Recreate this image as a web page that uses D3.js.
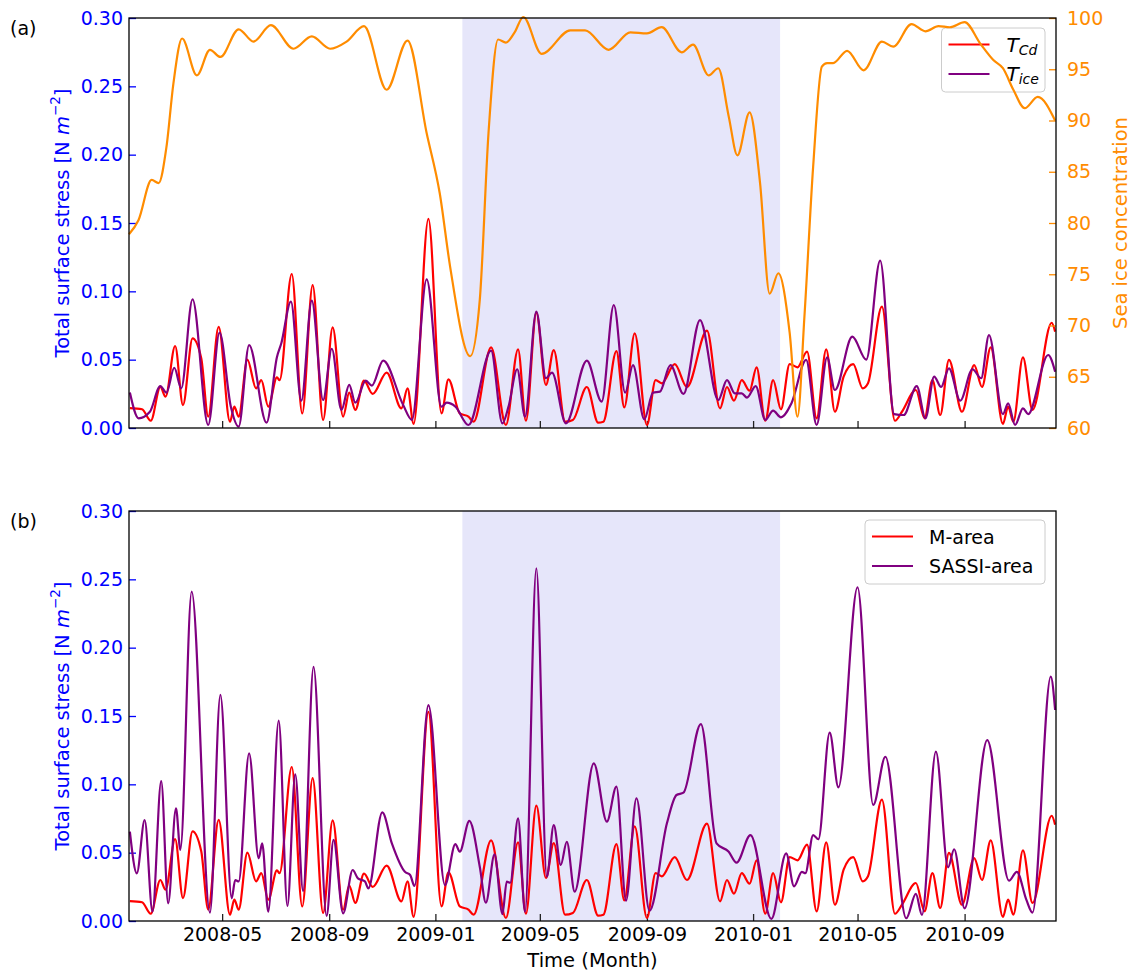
<!DOCTYPE html>
<html>
<head>
<meta charset="utf-8">
<script src="https://cdnjs.cloudflare.com/ajax/libs/d3/7.8.5/d3.min.js"></script>
<style>
  body { margin: 0; background: #fff; }
  svg { display: block; }
  text { font-family: "DejaVu Sans", sans-serif; }
</style>
</head>
<body>
<svg></svg>
<script>
// x values are days since 2008-01-15
const cdDays = [1,15,25,36,42,53,62,73,83,91,103,116,121,126,136,146,152,160,170,173,187,199,211,223,234,246,253,260,270,280,296,313,320,327,344,359,367,380,390,396,416,433,447,456,468,479,488,501,510,526,539,545,560,569,581,595,605,612,627,641,664,679,687,695,704,713,721,731,740,749,759,768,779,790,801,811,821,832,843,849,865,880,888,904,914,923,932,942,957,971,980,990,1004,1010,1016,1027,1038,1060,1064];
const cdVals = [0.0146,0.0137,0.0053,0.030,0.023,0.060,0.0168,0.0656,0.051,0.0083,0.074,0.0046,0.0156,0.0083,0.050,0.029,0.035,0.0156,0.037,0.035,0.1127,0.0107,0.1046,0.0059,0.0737,0.0083,0.0259,0.0132,0.0346,0.0249,0.0405,0.0144,0.029,0.003,0.153,0.0107,0.0356,0.0107,0.0083,0.0046,0.059,0.0022,0.0576,0.0053,0.0844,0.0315,0.057,0.0046,0.0059,0.030,0.0039,0.0046,0.0563,0.0151,0.0693,0.0022,0.035,0.0327,0.0468,0.030,0.0712,0.0144,0.030,0.020,0.035,0.0273,0.0444,0.0053,0.035,0.0137,0.0468,0.0444,0.0559,0.0071,0.0576,0.0119,0.0376,0.0468,0.029,0.0327,0.0888,0.0053,0.0119,0.0278,0.0071,0.035,0.0095,0.0498,0.0119,0.046,0.030,0.059,0.003,0.0156,0.0046,0.0517,0.0132,0.077,0.0705];

const iceDays = [1,11,24,36,43,52,60,73,91,104,117,126,138,158,170,175,186,198,210,223,233,244,253,260,272,279,292,315,325,342,359,365,375,390,416,429,436,446,455,468,479,486,502,526,543,557,570,579,592,602,610,622,637,656,677,687,696,704,710,720,731,740,749,761,778,790,802,811,831,847,863,879,890,905,915,925,933,942,955,969,979,988,1004,1010,1018,1027,1033,1056,1064];
const iceVals = [0.0259,0.0071,0.0119,0.0307,0.0259,0.0441,0.029,0.0942,0.0022,0.0698,0.0156,0.001,0.0607,0.0039,0.052,0.062,0.0924,0.020,0.0932,0.0205,0.058,0.0132,0.0315,0.0185,0.0346,0.031,0.0493,0.0168,0.0059,0.1088,0.0156,0.0185,0.0156,0.0022,0.0566,0.0034,0.0156,0.043,0.0083,0.0851,0.0364,0.0405,0.0034,0.0493,0.0193,0.090,0.0259,0.046,0.0063,0.0259,0.0266,0.046,0.0249,0.079,0.0205,0.035,0.0254,0.0254,0.0222,0.0307,0.0059,0.0127,0.0078,0.018,0.0498,0.0022,0.0517,0.0278,0.0668,0.050,0.1224,0.0102,0.0095,0.0307,0.0071,0.0376,0.030,0.0437,0.020,0.043,0.0364,0.068,0.0102,0.018,0.0022,0.0144,0.0102,0.0534,0.0412];

// sea ice concentration (right axis)
const sicDays = [0,11,26,34,43,51,61,78,93,105,126,143,163,189,210,231,250,270,296,320,342,357,369,392,403,413,424,433,443,453,474,507,524,551,576,595,612,635,648,666,677,689,699,713,725,736,746,759,768,776,786,796,802,809,825,844,865,878,899,915,930,943,960,978,993,1004,1016,1029,1044,1064];
const sicVals = [78.9,80.3,84.2,83.9,87.4,93.6,98.0,94.4,96.9,96.2,98.9,97.7,99.3,97.0,98.2,97.0,97.7,99.2,93.0,97.8,88.75,82.9,75.7,67.0,72.5,88.75,97.9,97.6,98.6,100.1,96.5,98.8,98.8,96.9,98.6,98.5,99.1,96.65,97.4,94.4,95.1,90.4,86.6,90.8,83.9,73.1,75.1,69.3,61.1,70.9,85.5,95.25,95.6,95.6,96.8,94.9,97.7,97.2,99.4,98.7,99.2,99.1,99.6,97.5,95.9,95.1,93.0,91.2,92.3,90.0];

const sassiDays = [1,9,18,27,37,45,54,59,72,93,105,118,122,126,138,149,153,160,172,182,191,200,212,227,235,246,257,263,271,275,291,302,317,323,328,344,363,375,380,391,403,410,420,429,434,438,447,455,468,480,488,496,503,512,534,549,560,571,583,598,618,629,637,657,675,689,698,714,738,755,764,773,777,786,792,805,815,837,855,869,893,904,911,927,941,948,960,986,1011,1020,1031,1038,1059,1064];
const sassiVals = [0.0654,0.0349,0.0739,0.0068,0.1024,0.0129,0.0824,0.052,0.241,0.0061,0.1654,0.0166,0.030,0.029,0.1227,0.0459,0.0568,0.0068,0.1466,0.011,0.1073,0.022,0.186,0.0037,0.0593,0.0056,0.0373,0.0312,0.029,0.0239,0.0795,0.0568,0.036,0.0337,0.0256,0.158,0.0263,0.0563,0.0507,0.0732,0.0397,0.0134,0.0488,0.0051,0.0288,0.028,0.0751,0.0068,0.258,0.0324,0.0702,0.041,0.058,0.0215,0.1154,0.0727,0.0983,0.0149,0.0898,0.0075,0.0715,0.0922,0.0939,0.1441,0.0568,0.0507,0.0427,0.0629,0.0015,0.0495,0.0254,0.036,0.035,0.0629,0.0598,0.1378,0.0978,0.2442,0.0849,0.1202,0.002,0.0198,0.0044,0.1239,0.0393,0.0525,0.0093,0.1324,0.0295,0.036,0.0154,0.0061,0.1788,0.1544];

const stressTicks = [0, 0.05, 0.10, 0.15, 0.20, 0.25, 0.30];
const sicTicks = [60, 65, 70, 75, 80, 85, 90, 95, 100];
const shadeRange = ["2009-02-01", "2010-02-01"];

const startDate = new Date(2008, 0, 15),
      endDate = new Date(2010, 11, 15);
const toDate = d => new Date(startDate.getTime() + d * 864e5);
const zip = (days, vals) => days.map((d, i) => ({ date: toDate(d), v: vals[i] }));

const BLUE = "#0000ff", ORANGE = "#ff8c00", RED = "#ff0000", PURPLE = "#800080";
const left = 129, right = 1056;

const svg = d3.select("svg").attr("width", 1136).attr("height", 974);

const x = d3.scaleTime().domain([startDate, endDate]).range([left, right]);
const parse = d3.timeParse("%Y-%m-%d");

function styleAxis(g, color, fontColor) {
  g.select(".domain").remove();
  g.selectAll(".tick line").attr("stroke", color).attr("stroke-width", 1.3);
  g.selectAll(".tick text").attr("fill", fontColor).attr("font-size", 19)
    .attr("font-family", "DejaVu Sans, sans-serif");
}

function panel(top, bottom, tag, showDates) {
  const y = d3.scaleLinear().domain([0, 0.3]).range([bottom, top]);
  const clipId = "clip" + tag;
  svg.append("clipPath").attr("id", clipId)
    .append("rect").attr("x", left).attr("y", top)
    .attr("width", right - left).attr("height", bottom - top);

  svg.append("rect")
    .attr("x", x(parse(shadeRange[0]))).attr("y", top)
    .attr("width", x(parse(shadeRange[1])) - x(parse(shadeRange[0])))
    .attr("height", bottom - top)
    .attr("fill", "#e6e6fa");

  const xAxis = svg.append("g")
    .attr("transform", `translate(0,${bottom})`)
    .call(d3.axisBottom(x).ticks(d3.timeMonth.every(4))
      .tickFormat(showDates ? d3.timeFormat("%Y-%m") : "")
      .tickSizeInner(-7).tickSizeOuter(0).tickPadding(7));
  styleAxis(xAxis, "#222", "#000");

  const yAxis = svg.append("g")
    .attr("transform", `translate(${left},0)`)
    .call(d3.axisLeft(y).tickValues(stressTicks).tickFormat(d3.format(".2f"))
      .tickSizeInner(-7).tickSizeOuter(0).tickPadding(6));
  styleAxis(yAxis, BLUE, BLUE);

  svg.append("text")
    .attr("transform", `translate(62,${(top + bottom) / 2}) rotate(-90)`)
    .attr("text-anchor", "middle").attr("dominant-baseline", "central")
    .attr("font-size", 19.5).attr("fill", BLUE)
    .selectAll("tspan")
    .data([
      { t: "Total surface stress [N ", s: {} },
      { t: "m", s: { "font-style": "italic" } },
      { t: "\u22122", s: { "font-size": 13.5, "baseline-shift": "7" } },
      { t: "]", s: {} }
    ])
    .join("tspan")
    .each(function (d) {
      const el = d3.select(this).text(d.t);
      Object.entries(d.s).forEach(([k, v]) => el.attr(k, v));
    });

  svg.append("text")
    .attr("x", 10).attr("y", top + 17)
    .attr("font-size", 19).attr("fill", "#000")
    .text(tag);

  return { y, clipId };
}

const line = (xs, ys) => d3.line()
  .x(d => xs(d.date)).y(d => ys(d.v))
  .curve(d3.curveMonotoneX);

function drawLine(data, ys, color, clipId) {
  svg.append("path")
    .datum(data)
    .attr("clip-path", `url(#${clipId})`)
    .attr("fill", "none")
    .attr("stroke", color)
    .attr("stroke-width", 2.2)
    .attr("stroke-linejoin", "round")
    .attr("d", line(x, ys));
}

function frame(top, bottom) {
  svg.append("rect")
    .attr("x", left).attr("y", top)
    .attr("width", right - left).attr("height", bottom - top)
    .attr("fill", "none").attr("stroke", "#000").attr("stroke-width", 1.3);
}

function legend(x0, y0, w, h, items) {
  const g = svg.append("g");
  g.append("rect")
    .attr("x", x0).attr("y", y0).attr("width", w).attr("height", h)
    .attr("rx", 4).attr("fill", "#fff").attr("fill-opacity", 0.8)
    .attr("stroke", "#cccccc").attr("stroke-width", 1);
  items.forEach((it, i) => {
    const yy = y0 + 16.5 + i * 29.5;
    g.append("line")
      .attr("x1", x0 + 7).attr("x2", x0 + 48)
      .attr("y1", yy).attr("y2", yy)
      .attr("stroke", it.color).attr("stroke-width", 2.2);
    const t = g.append("text")
      .attr("x", x0 + it.dx).attr("y", yy)
      .attr("dominant-baseline", "central")
      .attr("font-size", 19).attr("fill", "#000");
    it.render(t);
  });
}

// ---------- panel (a) ----------
const a = panel(18, 428, "(a)", false);
drawLine(zip(cdDays, cdVals), a.y, RED, a.clipId);
drawLine(zip(iceDays, iceVals), a.y, PURPLE, a.clipId);

const mathLabel = (main, sub) => t => {
  t.append("tspan").attr("font-style", "italic").attr("font-size", 20).text(main);
  t.append("tspan").attr("font-style", "italic").attr("font-size", 14)
    .attr("dy", 5).text(sub);
};
legend(941.5, 28, 103.5, 64, [
  { color: RED, dx: 65, render: mathLabel("T", "Cd") },
  { color: PURPLE, dx: 65, render: mathLabel("T", "ice") }
]);

// twin axis: sea ice concentration
const y2 = d3.scaleLinear().domain([60, 100]).range([428, 18]);
drawLine(zip(sicDays, sicVals), y2, ORANGE, a.clipId);
const rAxis = svg.append("g")
  .attr("transform", `translate(${right},0)`)
  .call(d3.axisRight(y2).tickValues(sicTicks)
    .tickSizeInner(-7).tickSizeOuter(0).tickPadding(11));
styleAxis(rAxis, ORANGE, ORANGE);
svg.append("text")
  .attr("transform", `translate(1120,${(18 + 428) / 2}) rotate(-90)`)
  .attr("text-anchor", "middle").attr("dominant-baseline", "central")
  .attr("font-size", 19.5).attr("fill", ORANGE)
  .text("Sea ice concentration");
frame(18, 428);

// ---------- panel (b) ----------
const b = panel(511, 921, "(b)", true);
drawLine(zip(cdDays, cdVals), b.y, RED, b.clipId);
drawLine(zip(sassiDays, sassiVals), b.y, PURPLE, b.clipId);
legend(865, 520, 180, 64, [
  { color: RED, dx: 64, render: t => t.text("M-area") },
  { color: PURPLE, dx: 64, render: t => t.text("SASSI-area") }
]);
frame(511, 921);

svg.append("text")
  .attr("x", (left + right) / 2).attr("y", 960)
  .attr("text-anchor", "middle").attr("dominant-baseline", "central")
  .attr("font-size", 19.5).attr("fill", "#000")
  .text("Time (Month)");
</script>
</body>
</html>
